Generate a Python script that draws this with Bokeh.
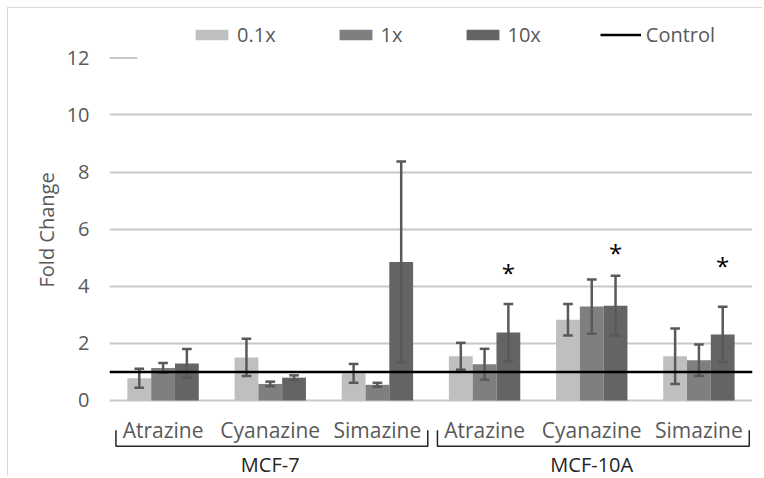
import numpy as np
from bokeh.plotting import figure
from bokeh.models import Range1d, FixedTicker, Legend, LegendItem, Title, InlineStyleSheet
from bokeh.core.properties import value
from bokeh.embed import file_html
from bokeh.resources import INLINE

# ---------------- data ----------------
compounds = ["Atrazine", "Cyanazine", "Simazine", "Atrazine", "Cyanazine", "Simazine"]
cell_lines = ["MCF-7", "MCF-10A"]
series_names = ["0.1x", "1x", "10x"]
mean_01x = [0.78, 1.51, 0.95, 1.55, 2.83, 1.55]
err_01x = [0.33, 0.65, 0.33, 0.47, 0.55, 0.97]
mean_1x = [1.14, 0.58, 0.55, 1.27, 3.29, 1.41]
err_1x = [0.17, 0.08, 0.07, 0.54, 0.95, 0.55]
mean_10x = [1.30, 0.80, 4.85, 2.38, 3.32, 2.31]
err_10x = [0.50, 0.08, 3.52, 1.00, 1.05, 0.97]
control_level = 1.0
sig_marks = ["", "", "", "*", "*", "*"]
sig_height = [0, 0, 0, 4.56, 5.28, 4.81]
y_ticks = [0, 2, 4, 6, 8, 10, 12]
y_axis_title = "Fold Change"

# ---------------- style ----------------
FONT = "Open Sans"
TXT = "#595959"
DARK = "#262626"
GRID = "#c8c8c8"
ERR = "#595959"
bar_colors = ["#bfbfbf", "#7f7f7f", "#646464"]
bar_w = 0.222
offsets = [-bar_w, 0.0, bar_w]
cap_half = 0.045

n = len(compounds)
centers = np.arange(n) + 0.5

p = figure(width=755, height=469, output_backend="svg", toolbar_location=None, tools="",
           x_range=Range1d(0, n), y_range=Range1d(-2.697, 13.73),
           x_axis_location=None, y_axis_location="left",
           min_border_left=101, min_border_right=11, min_border_top=0, min_border_bottom=0)
p.margin = (8, 0, 0, 8)
p.styles = {"box-shadow": "-1px -1px 0 0 #d9d9d9"}
p.stylesheets = [InlineStyleSheet(css=":host { box-shadow: -1px -1px 0 0 #d9d9d9; }")]
p.outline_line_color = None
p.background_fill_color = "white"
p.border_fill_color = "white"

# grid
p.xgrid.visible = False
p.ygrid.ticker = FixedTicker(ticks=y_ticks[:-1])
p.ygrid.grid_line_color = GRID
p.ygrid.grid_line_width = 2
# short visible stub of the top gridline (rest hidden behind legend)
p.segment(x0=[0], y0=[y_ticks[-1]], x1=[0.26], y1=[y_ticks[-1]], line_color=GRID, line_width=2)

# y axis
ax = p.yaxis[0]
ax.ticker = FixedTicker(ticks=y_ticks)
ax.axis_line_color = None
ax.major_tick_line_color = None
ax.minor_tick_line_color = None
ax.major_tick_out = 0
ax.major_tick_in = 0
ax.major_label_standoff = 20
ax.major_label_text_font = FONT
ax.major_label_text_font_size = "20px"
ax.major_label_text_color = TXT

means = [mean_01x, mean_1x, mean_10x]
errs = [err_01x, err_1x, err_10x]
bar_renderers = []
for m, c, off in zip(means, bar_colors, offsets):
    r = p.vbar(x=centers + off, top=m, bottom=0, width=bar_w, fill_color=c, line_color=None)
    bar_renderers.append(r)

for m, e, off in zip(means, errs, offsets):
    xs = centers + off
    m = np.array(m); e = np.array(e)
    p.segment(x0=xs, y0=m - e, x1=xs, y1=m + e, line_color=ERR, line_width=2.5)
    p.segment(x0=xs - cap_half, y0=m + e, x1=xs + cap_half, y1=m + e, line_color=ERR, line_width=2.5)
    p.segment(x0=xs - cap_half, y0=m - e, x1=xs + cap_half, y1=m - e, line_color=ERR, line_width=2.5)

ctrl = p.line(x=[p.x_range.start, p.x_range.end], y=[control_level, control_level],
              line_color="black", line_width=2.5)

# significance asterisks over 10x bars
sx = [centers[i] + offsets[2] for i in range(n) if sig_marks[i]]
sy = [sig_height[i] - 0.09 for i in range(n) if sig_marks[i]]
st = [sig_marks[i] for i in range(n) if sig_marks[i]]
p.text(x=sx, y=sy, text=st, text_align="center", text_baseline="alphabetic",
       text_font=value(FONT), text_font_size="24px", text_color="black")

# category labels
p.text(x=centers, y=[-1.05] * n, text=compounds, text_align="center", text_baseline="middle",
       text_font=value(FONT), text_font_size="21px", text_color=TXT)

# group brackets and labels
per = n // len(cell_lines)
bx, by, gx = [], [], []
for g in range(len(cell_lines)):
    a = g * per + 0.06
    b = (g + 1) * per - 0.03
    bx.append([a, a, b, b])
    by.append([-1.04, -1.60, -1.60, -1.04])
    gx.append(g * per + per / 2)
p.multi_line(xs=bx, ys=by, line_color=DARK, line_width=1.5)
p.text(x=gx, y=[-2.25] * len(cell_lines), text=cell_lines, text_align="center", text_baseline="middle",
       text_font=value(FONT), text_font_size="20px", text_color=DARK)

# axis title as a left-side title, positioned from the bottom to match the reference
p.add_layout(Title(text=y_axis_title, align="left", offset=190, text_font=FONT,
                   text_font_size="20px", text_font_style="normal", text_color=TXT,
                   standoff=8), "left")

legend = Legend(items=[LegendItem(label=s, renderers=[r]) for s, r in zip(series_names, bar_renderers)]
                + [LegendItem(label="Control", renderers=[ctrl])],
                orientation="horizontal", location=(82, 429), glyph_width=41, glyph_height=13,
                label_standoff=5, spacing=59, padding=0, margin=0, border_line_color=None,
                background_fill_alpha=0, label_text_font=FONT, label_text_font_size="20px",
                label_text_color=TXT)
p.add_layout(legend)

open("out.html", "w").write(file_html(p, INLINE))
